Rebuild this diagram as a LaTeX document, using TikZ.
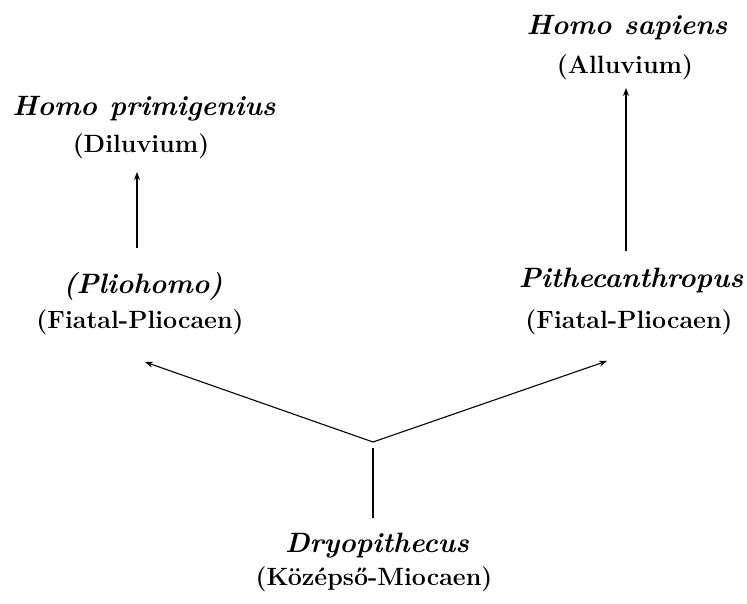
\documentclass[tikz,border=0pt]{standalone}
\usepackage{fontspec}
\usetikzlibrary{arrows.meta}
\begin{document}
\begin{tikzpicture}[x=1pt,y=-1pt,
  taxon/.style={anchor=base,inner sep=0pt,font=\fontsize{28}{30}\selectfont\bfseries\itshape},
  epoch/.style={anchor=base,inner sep=0pt,font=\fontsize{25}{27}\selectfont\bfseries},
  conn/.style={line width=1.1pt},
  arr/.style={conn,-{Stealth[length=8pt,width=6pt]}}]
\useasboundingbox (0,0) rectangle (747,603);
% nodes
\node[taxon] (hp) at (144,115) {Homo\hspace{0.45em}primigenius};
\node[epoch] (dil) at (141,152) {(Diluvium)};
\node[taxon] (hs) at (627,34) {Homo\hspace{0.45em}sapiens};
\node[epoch] (all) at (625,73) {(Alluvium)};
\node[taxon] (plio) at (143,293) {(Pliohomo)};
\node[epoch] (fp1) at (140,328) {(Fiatal-Pliocaen)};
\node[taxon] (pith) at (631,287) {Pithecanthropus};
\node[epoch] (fp2) at (629,328) {(Fiatal-Pliocaen)};
\node[taxon] (dryo) at (377,552) {Dryopithecus};
\node[epoch] (koz) at (374,585) {(Középső-Miocaen)};
% connector ends
\coordinate (j) at (373,442);
\coordinate (jb) at (373,448);
\coordinate (dtop) at (373,518);
\coordinate (lt) at (145,362);
\coordinate (rt) at (607,361);
\coordinate (pa) at (137,248);
\coordinate (pb) at (137,172);
\coordinate (sa) at (626,251);
\coordinate (sb) at (626,88);
% connectors
\draw[arr] (pa) -- (pb);
\draw[arr] (sa) -- (sb);
\draw[arr] (j) -- (lt);
\draw[arr] (j) -- (rt);
\draw[conn] (dtop) -- (jb);
\end{tikzpicture}
\end{document}
